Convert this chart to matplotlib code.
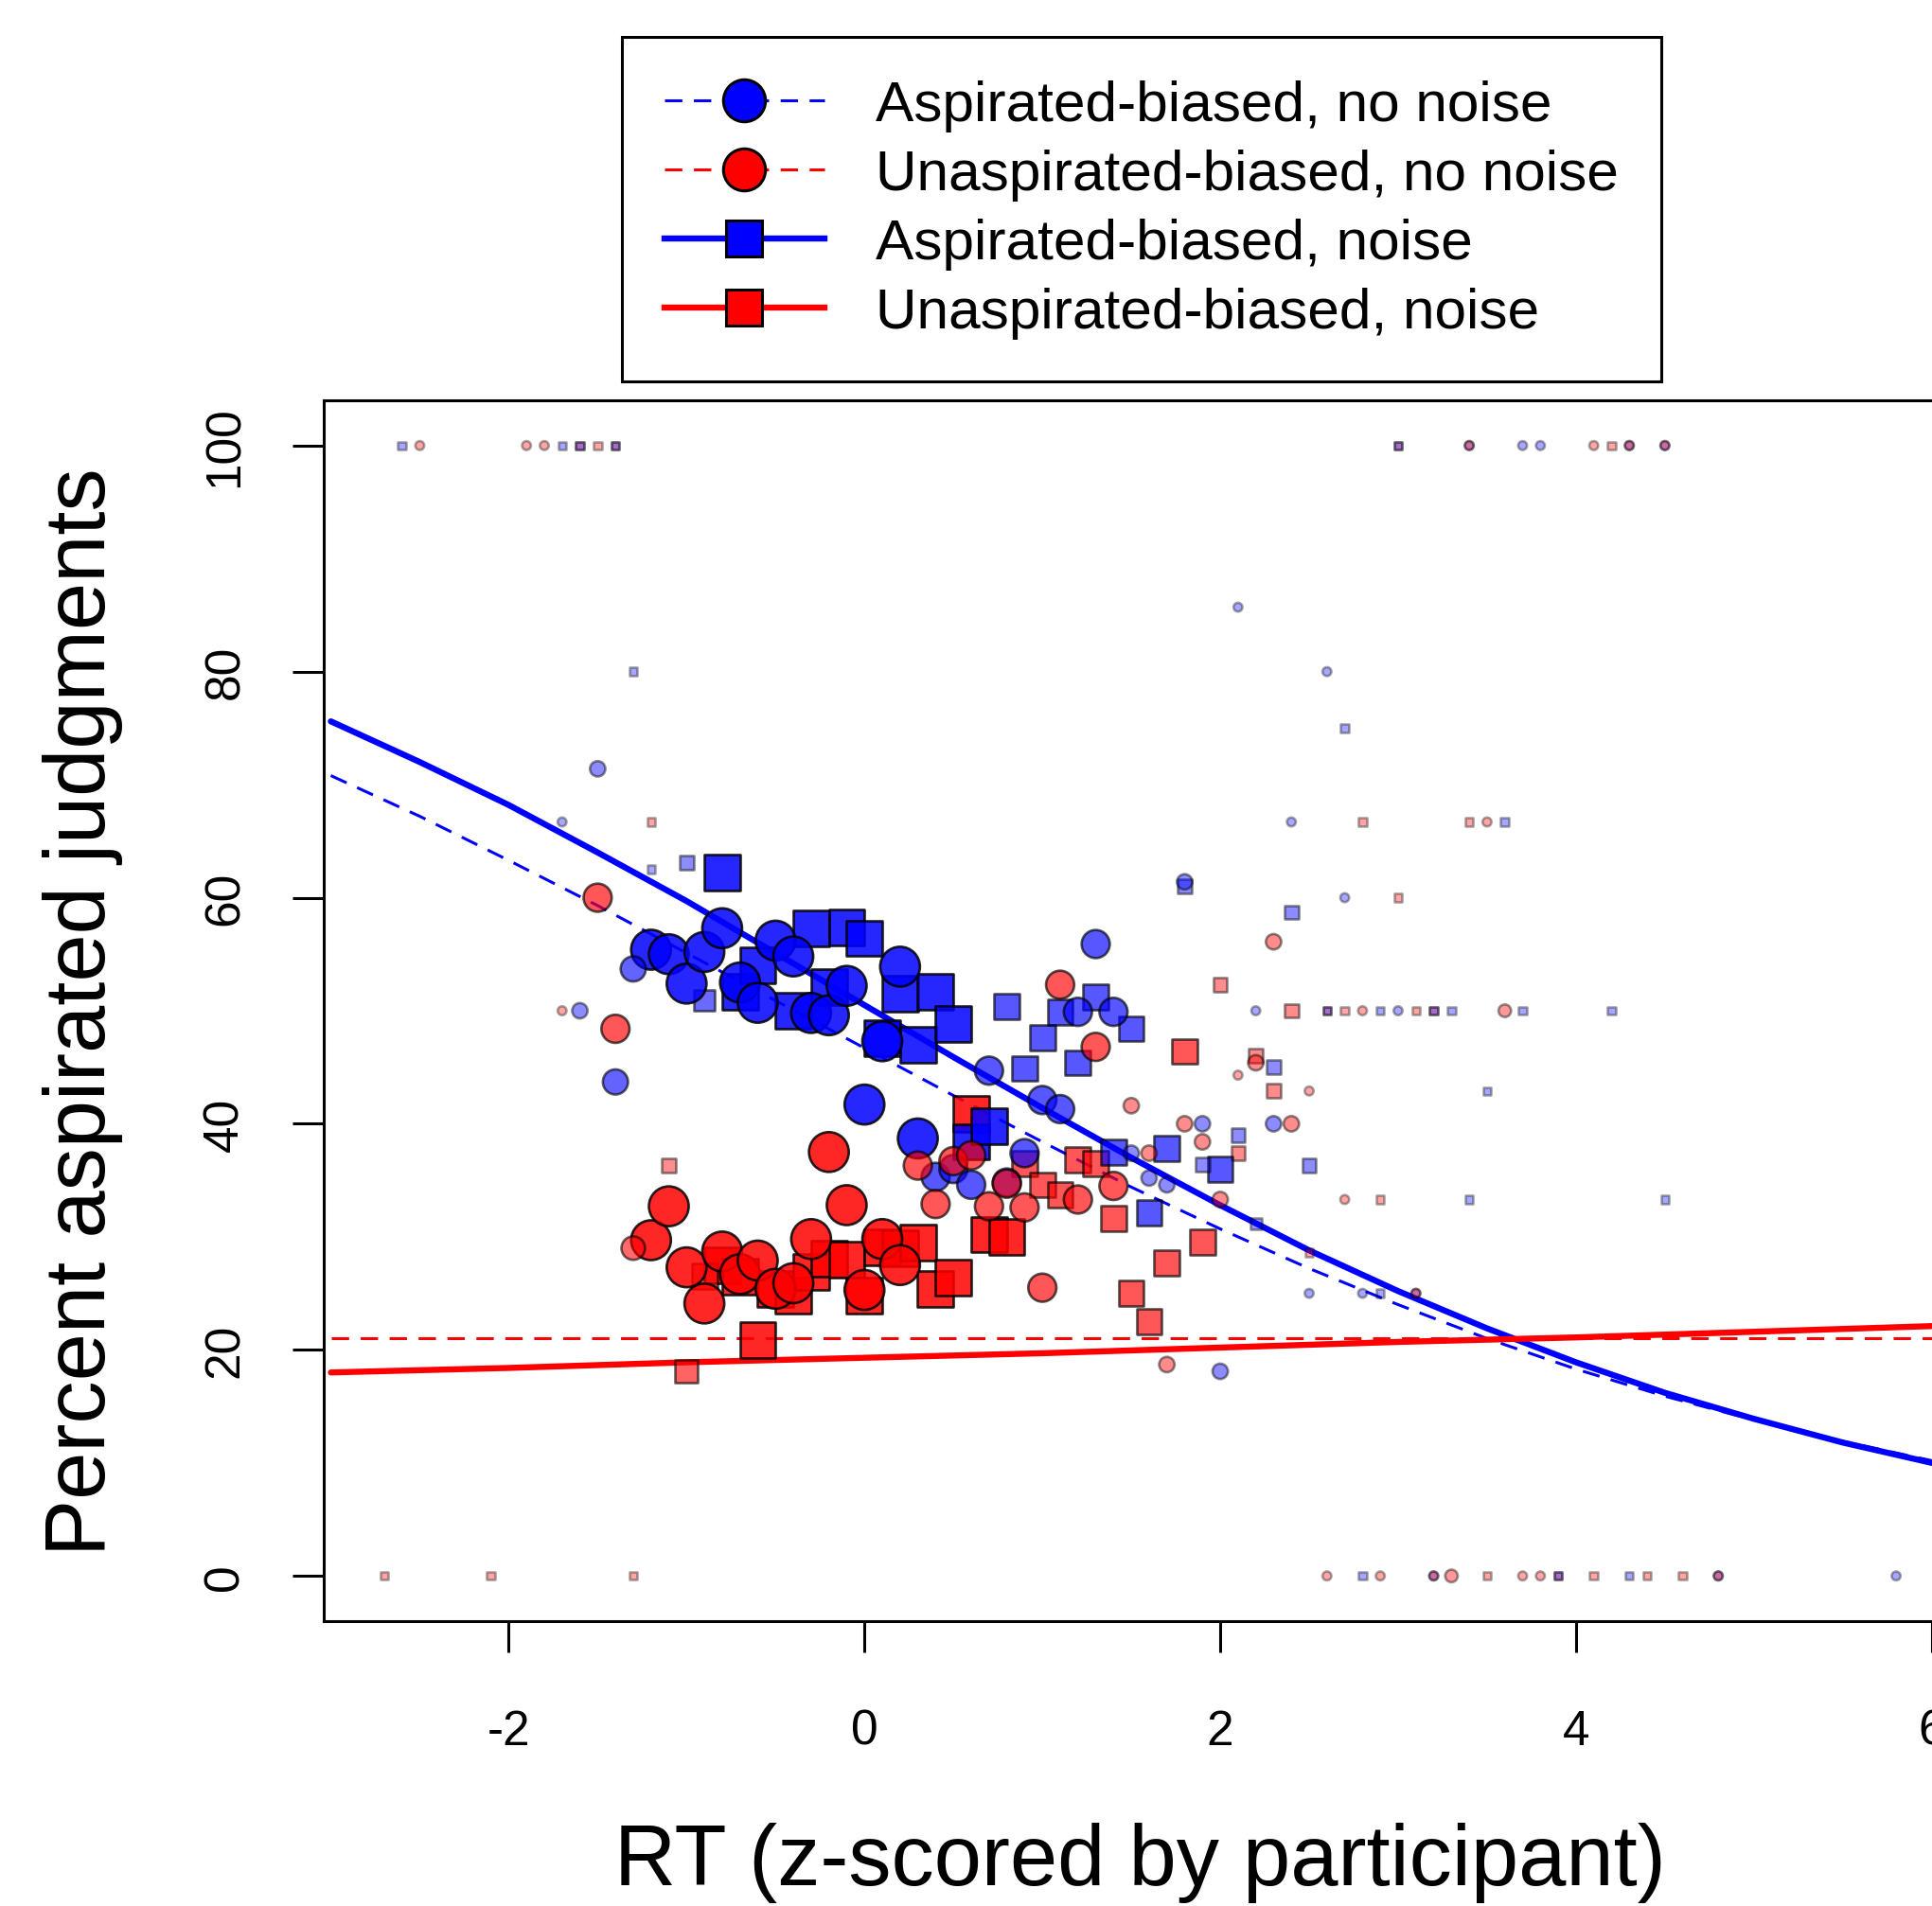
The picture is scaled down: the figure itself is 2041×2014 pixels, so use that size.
import matplotlib
matplotlib.use("Agg")
import matplotlib.pyplot as plt
from matplotlib.colors import to_rgb
from matplotlib.lines import Line2D
import numpy as np

plt.rcParams["font.family"] = ["Liberation Sans", "DejaVu Sans"]
plt.rcParams["axes.unicode_minus"] = False

# Binned RT (z-score) vs percent aspirated, marker weight = trials in bin
asp_clean_x = [-1.2, -1.1, -1.0, -0.9, -0.8, -0.7, -0.6, -0.5, -0.4, -0.3, -0.2, -0.1, 0.0, 0.1, 0.2, 0.3,
               -1.4, -1.3, 0.4, 0.5, 0.6, 0.7, 0.8, 0.9, 1.0, 1.1, 1.2, 1.3, 1.4,
               -1.6, -1.5, 1.5, 1.6, 1.7, 1.8, 1.9, 2.0, 2.3,
               -1.7, 2.1, 2.2, 2.4, 2.5, 2.6, 2.7, 2.8, 3.0, 3.1, 3.2, 3.4, 3.7, 3.8, 4.3, 4.5, 4.8, 5.8]
asp_clean_pct = [55.4, 55.0, 52.4, 55.2, 57.3, 52.5, 50.7, 56.2, 54.8, 49.8, 49.6, 52.2, 41.7, 47.3, 53.9, 38.7,
                 43.7, 53.7, 35.3, 36.0, 34.6, 44.7, 34.8, 37.4, 42.1, 41.3, 49.9, 55.9, 49.9,
                 50.0, 71.4, 37.4, 35.2, 34.6, 61.4, 40.0, 18.1, 40.0,
                 66.7, 85.7, 50.0, 66.7, 25.0, 80.0, 60.0, 25.0, 50.0, 25.0, 0, 100, 100, 100, 100, 100, 0, 0]
asp_clean_n = [20, 20, 20, 20, 20, 20, 20, 20, 20, 20, 20, 20, 20, 20, 20, 20,
               8, 8, 10, 10, 10, 10, 10, 10, 10, 10, 10, 10, 10,
               3, 3, 3, 3, 3, 3, 3, 3, 3,
               1, 1, 1, 1, 1, 1, 1, 1, 1, 1, 1, 1, 1, 1, 1, 1, 1, 1]

unasp_clean_x = [-1.2, -1.1, -1.0, -0.9, -0.8, -0.7, -0.6, -0.5, -0.4, -0.3, -0.2, -0.1, 0.0, 0.1, 0.2,
                 -1.5, -1.4, -1.3, 0.3, 0.4, 0.5, 0.6, 0.7, 0.8, 0.9, 1.0, 1.1, 1.2, 1.3, 1.4,
                 1.5, 1.6, 1.7, 1.8, 1.9, 2.0, 2.2, 2.3, 2.4,
                 -2.5, -1.9, -1.8, -1.7, 2.1, 2.5, 2.6, 2.7, 2.8, 2.9, 3.1, 3.2, 3.3, 3.4, 3.5, 3.6,
                 3.7, 3.8, 4.1, 4.3, 4.5, 4.8]
unasp_clean_pct = [29.7, 32.7, 27.3, 24.1, 28.7, 26.7, 27.9, 25.4, 25.9, 29.8, 37.5, 32.8, 25.3, 29.8, 27.5,
                   60.0, 48.4, 29.0, 36.3, 32.9, 36.7, 37.2, 32.7, 34.7, 32.6, 25.5, 52.3, 33.3, 46.8, 34.5,
                   41.6, 37.4, 18.7, 40.0, 38.4, 33.3, 45.4, 56.1, 40.0,
                   100, 100, 100, 50.0, 44.3, 42.9, 0, 33.3, 50.0, 0, 25.0, 0, 0, 100, 66.7, 50.0,
                   0, 0, 100, 100, 100, 0]
unasp_clean_n = [20, 20, 20, 20, 20, 20, 20, 20, 20, 20, 20, 20, 20, 20, 20,
                 10, 10, 7, 10, 10, 10, 10, 10, 10, 10, 10, 10, 10, 10, 10,
                 3, 3, 3, 3, 3, 3, 3, 3, 3,
                 1, 1, 1, 1, 1, 1, 1, 1, 1, 1, 1, 1, 2, 1, 1, 2,
                 1, 1, 1, 1, 1, 1]

asp_noise_x = [-0.8, -0.7, -0.6, -0.4, -0.3, -0.2, -0.1, 0.0, 0.1, 0.2, 0.3, 0.4, 0.5, 0.6, 0.7,
               -0.9, 0.8, 0.9, 1.0, 1.1, 1.2, 1.3, 1.4, 1.5, 1.6, 1.7, 2.0,
               -1.0, 1.8, 1.9, 2.1, 2.2, 2.3, 2.4, 2.5,
               -2.6, -1.7, -1.6, -1.4, -1.3, -1.2, 2.6, 2.7, 2.8, 2.9, 2.9, 3.0, 3.2, 3.3, 3.4,
               3.5, 3.6, 3.7, 3.9, 4.2, 4.3, 4.5]
asp_noise_pct = [62.2, 51.7, 54.0, 50.0, 57.3, 52.1, 57.4, 56.4, 47.6, 51.5, 47.0, 51.7, 48.8, 38.4, 39.8,
                 50.9, 50.4, 44.9, 47.6, 49.9, 45.4, 51.2, 37.5, 48.4, 32.1, 37.8, 36.0,
                 63.1, 61.0, 36.4, 39.0, 31.2, 45.0, 58.7, 36.3,
                 100, 100, 100, 100, 80.0, 62.5, 50.0, 75.0, 0, 50.0, 25.0, 100, 50.0, 50.0, 33.3,
                 42.9, 66.7, 50.0, 0, 50.0, 0, 33.3]
asp_noise_n = [20, 20, 20, 20, 20, 20, 20, 20, 20, 20, 20, 20, 20, 20, 20,
               7, 10, 10, 10, 10, 10, 10, 10, 10, 10, 10, 10,
               3, 3, 3, 3, 2, 3, 3, 3,
               1, 1, 1, 1, 1, 1, 1, 1, 1, 1, 1, 1, 1, 1, 1,
               1, 1, 1, 1, 1, 1, 1]

unasp_noise_x = [-0.8, -0.7, -0.6, -0.5, -0.4, -0.3, -0.2, -0.1, 0.0, 0.1, 0.2, 0.3, 0.4, 0.5, 0.6, 0.7, 0.8,
                 -1.0, -0.9, 0.9, 1.0, 1.1, 1.2, 1.3, 1.4, 1.5, 1.6, 1.7, 1.8, 1.9,
                 -1.1, 2.0, 2.1, 2.2, 2.3, 2.4,
                 -2.7, -2.1, -1.6, -1.5, -1.4, -1.3, -1.2, 2.5, 2.6, 2.7, 2.8, 2.9, 3.0, 3.0, 3.1,
                 3.2, 3.4, 3.5, 3.9, 4.1, 4.2, 4.4, 4.6]
unasp_noise_pct = [27.5, 26.5, 20.9, 25.4, 24.8, 26.9, 28.1, 28.0, 24.8, 29.1, 29.0, 29.5, 25.4, 26.4, 40.9, 30.2, 30.0,
                   18.1, 26.5, 36.5, 34.6, 33.7, 36.8, 36.5, 31.6, 25.0, 22.5, 27.7, 46.4, 29.5,
                   36.3, 52.3, 37.4, 46.0, 42.9, 50.0,
                   0, 0, 100, 100, 100, 0, 66.7, 28.6, 50.0, 50.0, 66.7, 33.3, 100, 60.0, 50.0,
                   50.0, 66.7, 0, 0, 0, 100, 0, 0]
unasp_noise_n = [20, 20, 20, 20, 20, 20, 20, 20, 20, 20, 20, 20, 20, 20, 20, 20, 20,
                 8, 10, 10, 10, 10, 10, 10, 10, 10, 10, 10, 10, 10,
                 3, 3, 3, 3, 3, 3,
                 1, 1, 1, 1, 1, 1, 1, 1, 1, 1, 1, 1, 1, 1, 1,
                 1, 1, 1, 1, 1, 1, 1, 1]

# Model fits
fit_x = [-3.0, -2.5, -2.0, -1.5, -1.0, -0.5, 0.0, 0.5, 1.0, 1.5, 2.0, 2.5, 3.0, 3.5, 4.0, 4.5, 5.0, 5.5, 6.0]
asp_noise_fit = [75.6, 72.0, 68.2, 64.0, 59.7, 55.1, 50.5, 45.9, 41.4, 37.0, 32.8, 28.8, 25.2, 21.9, 18.9,
                 16.2, 13.9, 11.8, 10.0]
asp_clean_fit = [70.8, 67.2, 63.3, 59.3, 55.1, 50.9, 46.7, 42.5, 38.4, 34.4, 30.7, 27.2, 24.0, 21.0, 18.3,
                 15.9, 13.8, 11.9, 10.2]
unasp_fit_x = [-3, -2, -1, 0, 1, 2, 3, 4, 5, 6]
unasp_noise_fit = [18.0, 18.4, 18.9, 19.3, 19.7, 20.2, 20.7, 21.1, 21.6, 22.1]
unasp_clean_fit = [21.0, 21.0, 21.0, 21.0, 21.0, 21.0, 21.0, 21.0, 21.0, 21.0]

W, H = 2041, 2015
fig = plt.figure(figsize=(W / 100, H / 100), dpi=100)
ax = fig.add_axes([342 / W, 301 / H, 1725 / W, 1290 / H])

dash = (0, (6, 4))
ax.plot(fit_x, asp_clean_fit, color="blue", lw=2.2, ls=dash, zorder=2)
ax.plot(unasp_fit_x, unasp_clean_fit, color="red", lw=2.2, ls=dash, zorder=2)
ax.plot(fit_x, asp_noise_fit, color="blue", lw=4.6, solid_capstyle="round", zorder=2)
ax.plot(unasp_fit_x, unasp_noise_fit, color="red", lw=4.6, solid_capstyle="round", zorder=2)


def draw_bins(xs, ys, ns, color, marker):
    ns = np.asarray(ns, dtype=float)
    diam = 9.4 * np.sqrt(ns)
    if marker == "s":
        diam = diam * 0.9
    alpha = 0.2 + 0.65 * np.sqrt(ns / 20.0)
    rgb = to_rgb(color)
    face = [(rgb[0], rgb[1], rgb[2], a) for a in alpha]
    edge = [(0, 0, 0, a) for a in alpha]
    ax.scatter(xs, ys, s=(diam * 0.72) ** 2, marker=marker, c=face,
               edgecolors=edge, linewidths=1.9, zorder=3)


draw_bins(unasp_noise_x, unasp_noise_pct, unasp_noise_n, "red", "s")
draw_bins(asp_noise_x, asp_noise_pct, asp_noise_n, "blue", "s")
draw_bins(asp_clean_x, asp_clean_pct, asp_clean_n, "blue", "o")
draw_bins(unasp_clean_x, unasp_clean_pct, unasp_clean_n, "red", "o")

ax.set_xlim(-3.04, 6.14)
ax.set_ylim(-4, 104)
ax.set_xticks([-2, 0, 2, 4, 6])
ax.set_yticks([0, 20, 40, 60, 80, 100])
ax.tick_params(axis="both", length=24, width=2.2, labelsize=37, direction="out")
ax.tick_params(axis="x", pad=42)
ax.tick_params(axis="y", pad=33)
for lab in ax.get_yticklabels():
    lab.set_rotation(90)
    lab.set_va("center")
for sp in ax.spines.values():
    sp.set_linewidth(2.2)

ax.set_xlabel("RT (z-scored by participant)", fontsize=65, va="top")
ax.xaxis.set_label_coords(0.5, -0.1643)
ax.set_ylabel("Percent aspirated judgments", fontsize=65, va="center")
ax.yaxis.set_label_coords(-0.1475, 0.5)

handles = [
    Line2D([], [], color="blue", lw=2.2, ls=dash, marker="o", markersize=32,
           markerfacecolor="blue", markeredgecolor="black", markeredgewidth=2.2),
    Line2D([], [], color="red", lw=2.2, ls=dash, marker="o", markersize=32,
           markerfacecolor="red", markeredgecolor="black", markeredgewidth=2.2),
    Line2D([], [], color="blue", lw=4.6, marker="s", markersize=28,
           markerfacecolor="blue", markeredgecolor="black", markeredgewidth=2.2),
    Line2D([], [], color="red", lw=4.6, marker="s", markersize=28,
           markerfacecolor="red", markeredgecolor="black", markeredgewidth=2.2),
]
labels = ["Aspirated-biased, no noise", "Unaspirated-biased, no noise",
          "Aspirated-biased, noise", "Unaspirated-biased, noise"]
leg = fig.legend(handles, labels, loc="upper center", bbox_to_anchor=(1206 / W, 1 - 40 / H),
                 fontsize=43.5, handlelength=2.8, handletextpad=0.9, labelspacing=0.3,
                 borderpad=0.74, borderaxespad=0, fancybox=False, framealpha=1)
leg.get_frame().set_edgecolor("black")
leg.get_frame().set_linewidth(2.2)

fig.savefig("out.png", dpi=100)
